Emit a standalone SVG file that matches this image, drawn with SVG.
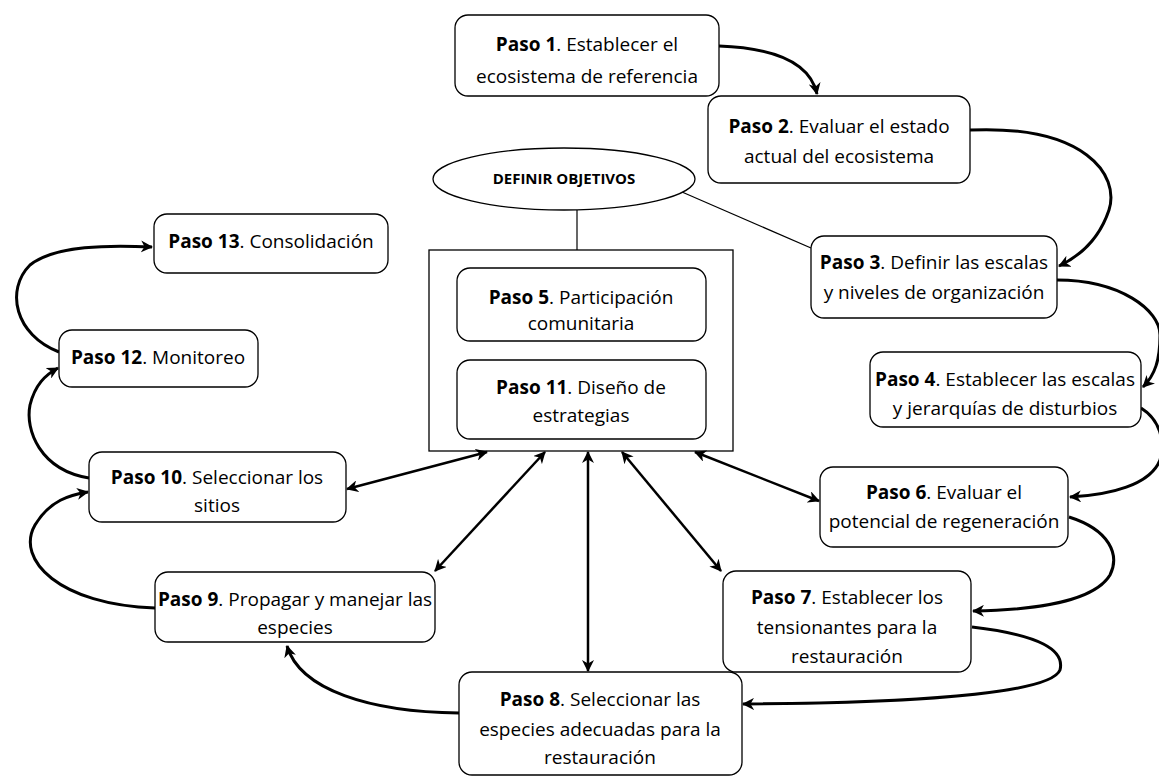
<svg xmlns="http://www.w3.org/2000/svg" width="1159" height="777" viewBox="0 0 1159 777">
<style>
.box{fill:#fff;stroke:#000;stroke-width:1.3}
.t{font-family:"Open Sans","Noto Sans","Liberation Sans",sans-serif;font-size:19px;fill:#000;text-anchor:middle}
.b{font-weight:bold}
.c{fill:none;stroke:#000;stroke-width:3}
.d{fill:none;stroke:#000;stroke-width:2.5}
.thin{fill:none;stroke:#000;stroke-width:1.2}
</style>
<defs>
<marker id="ah" viewBox="0 0 12 12" refX="11" refY="6" markerWidth="12" markerHeight="12" markerUnits="userSpaceOnUse" orient="auto-start-reverse">
<path d="M0,0 L12,6 L0,12 L3.5,6 z" fill="#000"/>
</marker>
</defs>
<rect width="1159" height="777" fill="#fff"/>
<g id="connectors">
<line class="thin" x1="577" y1="210" x2="577" y2="250"/>
<line class="thin" x1="682" y1="192" x2="811" y2="248"/>
<path class="c" d="M719,46 C775,48 810,62 817,94" marker-end="url(#ah)"/>
<path class="c" d="M970,130 C1085,125 1120,175 1109,210 C1099,240 1080,256 1059,266" marker-end="url(#ah)"/>
<path class="c" d="M1057,280 C1120,280 1160,310 1160,335 C1160,360 1155,375 1143,387" marker-end="url(#ah)"/>
<path class="c" d="M1141,408 C1160,420 1165,440 1160,460 C1150,485 1110,495 1070,497" marker-end="url(#ah)"/>
<path class="c" d="M1069,517 C1110,530 1120,555 1110,575 C1095,600 1040,610 973,611" marker-end="url(#ah)"/>
<path class="c" d="M972,627 C1040,635 1065,650 1060,670 C1050,695 900,703 743,704" marker-end="url(#ah)"/>
<path class="c" d="M459,713 C370,712 300,690 287,646" marker-end="url(#ah)"/>
<path class="c" d="M155,608 C60,605 15,560 35,525 C50,500 70,495 88,492" marker-end="url(#ah)"/>
<path class="c" d="M89,478 C40,470 25,430 30,405 C35,385 45,375 58,368" marker-end="url(#ah)"/>
<path class="c" d="M59,352 C15,335 5,290 30,265 C55,245 110,245 152,247" marker-end="url(#ah)"/>
<path class="d" d="M487,452 L347,489" marker-start="url(#ah)" marker-end="url(#ah)"/>
<path class="d" d="M545,452 L435,571" marker-start="url(#ah)" marker-end="url(#ah)"/>
<path class="d" d="M588,452 L588,671" marker-start="url(#ah)" marker-end="url(#ah)"/>
<path class="d" d="M622,452 L721,571" marker-start="url(#ah)" marker-end="url(#ah)"/>
<path class="d" d="M695,452 L819,501" marker-start="url(#ah)" marker-end="url(#ah)"/>
</g>
<g id="outer"><rect x="429" y="250" width="304" height="201" fill="none" stroke="#000" stroke-width="1.3"/></g>
<g id="objetivos">
<ellipse class="box" cx="564" cy="179" rx="131" ry="31"/>
<text class="t b" x="564" y="184" style="font-size:15px">DEFINIR OBJETIVOS</text>
</g>
<g id="paso1"><rect class="box" x="455" y="15" width="264" height="81" rx="13"/>
<text class="t" x="587" y="51"><tspan class="b">Paso 1</tspan>. Establecer el</text>
<text class="t" x="587" y="83">ecosistema de referencia</text></g>
<g id="paso2"><rect class="box" x="708" y="96" width="262" height="87" rx="13"/>
<text class="t" x="839" y="133"><tspan class="b">Paso 2</tspan>. Evaluar el estado</text>
<text class="t" x="839" y="163">actual del ecosistema</text></g>
<g id="paso3"><rect class="box" x="811" y="236" width="246" height="82" rx="13"/>
<text class="t" x="934" y="269"><tspan class="b">Paso 3</tspan>. Definir las escalas</text>
<text class="t" x="934" y="299">y niveles de organización</text></g>
<g id="paso4"><rect class="box" x="870" y="352" width="271" height="75" rx="13"/>
<text class="t" x="1005" y="386"><tspan class="b">Paso 4</tspan>. Establecer las escalas</text>
<text class="t" x="1005" y="415">y jerarquías de disturbios</text></g>
<g id="paso5"><rect class="box" x="457" y="268" width="249" height="73" rx="13"/>
<text class="t" x="581" y="304"><tspan class="b">Paso 5</tspan>. Participación</text>
<text class="t" x="581" y="330">comunitaria</text></g>
<g id="paso11"><rect class="box" x="457" y="360" width="249" height="79" rx="13"/>
<text class="t" x="581" y="394"><tspan class="b">Paso 11</tspan>. Diseño de</text>
<text class="t" x="581" y="422">estrategias</text></g>
<g id="paso6"><rect class="box" x="820" y="467" width="248" height="80" rx="13"/>
<text class="t" x="944" y="499"><tspan class="b">Paso 6</tspan>. Evaluar el</text>
<text class="t" x="944" y="528">potencial de regeneración</text></g>
<g id="paso7"><rect class="box" x="723" y="571" width="248" height="101" rx="13"/>
<text class="t" x="847" y="604"><tspan class="b">Paso 7</tspan>. Establecer los</text>
<text class="t" x="847" y="634">tensionantes para la</text>
<text class="t" x="847" y="663">restauración</text></g>
<g id="paso8"><rect class="box" x="459" y="672" width="283" height="103" rx="13"/>
<text class="t" x="600" y="706"><tspan class="b">Paso 8</tspan>. Seleccionar las</text>
<text class="t" x="600" y="736">especies adecuadas para la</text>
<text class="t" x="600" y="764">restauración</text></g>
<g id="paso9"><rect class="box" x="155" y="572" width="280" height="70" rx="13"/>
<text class="t" x="295" y="606"><tspan class="b">Paso 9</tspan>. Propagar y manejar las</text>
<text class="t" x="295" y="634">especies</text></g>
<g id="paso10"><rect class="box" x="89" y="452" width="257" height="70" rx="13"/>
<text class="t" x="217" y="484"><tspan class="b">Paso 10</tspan>. Seleccionar los</text>
<text class="t" x="217" y="512">sitios</text></g>
<g id="paso12"><rect class="box" x="59" y="330" width="199" height="57" rx="13"/>
<text class="t" x="158" y="364"><tspan class="b">Paso 12</tspan>. Monitoreo</text></g>
<g id="paso13"><rect class="box" x="154" y="214" width="234" height="59" rx="13"/>
<text class="t" x="271" y="248"><tspan class="b">Paso 13</tspan>. Consolidación</text></g>
</svg>
